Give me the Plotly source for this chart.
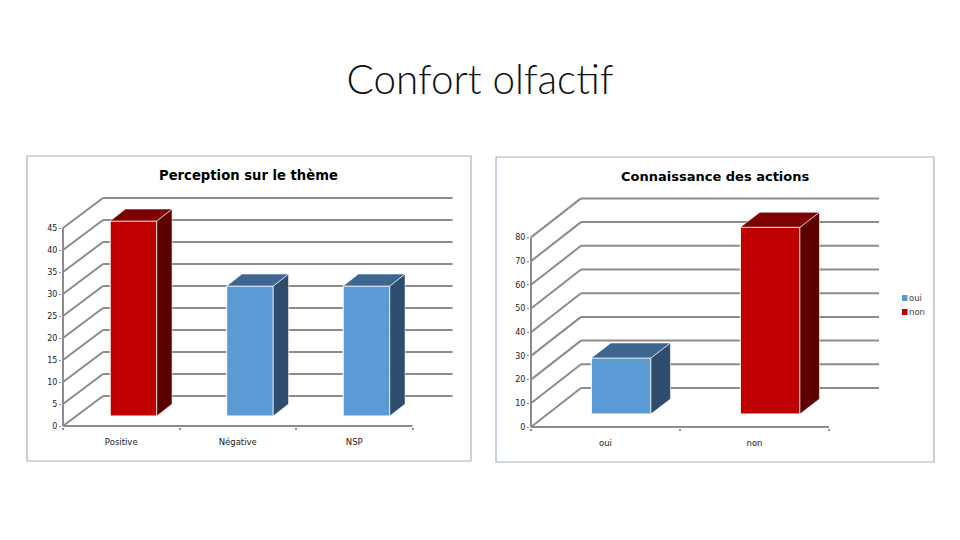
import plotly.graph_objects as go

W, H = 960, 540

# left chart
labels_a = ["Positive", "Négative", "NSP"]
values_a = [45, 30, 30]
colors_a = ["red", "blue", "blue"]
ticks_a = [0, 5, 10, 15, 20, 25, 30, 35, 40, 45]

# right chart
labels_b = ["oui", "non"]
values_b = [24, 80]
colors_b = ["blue", "red"]
ticks_b = [0, 10, 20, 30, 40, 50, 60, 70, 80]

FACES = {
    "red": ("#c00000", "#5c0000", "#7f0000"),
    "blue": ("#5b9bd5", "#2e4d6e", "#3d6690"),
}
GRID = "#8c8c8c"
BORDER = "#a3b5c7"
TEXT = "#222222"
PAD = 1  # px kept around the plot area so the floor and wall lines are not clipped


def px_x(x):
    return x / W


def px_y(y):
    return 1 - y / H


fig = go.Figure()
shapes = []


def add_panel(suffix, labels, values, colors, ticks, left, right, bottom, top,
              cat_w, unit, back_dx, back_dy, bar_base, bar_dx, bar_dy):
    xname = "x" + suffix
    yname = "y" + suffix
    n = len(labels)
    wall_x = back_dx / cat_w
    wall_y = back_dy / unit

    # floor, wall and grid in axis units, behind the bars
    def line(x0, y0, x1, y1):
        shapes.append(dict(type="line", xref=xname, yref=yname, x0=x0, y0=y0, x1=x1, y1=y1,
                           layer="below", line=dict(color=GRID, width=2)))

    line(0, 0, 0, ticks[-1])
    line(0, 0, n, 0)
    for t in ticks:
        line(0, t, wall_x, t + wall_y)
        line(wall_x, t + wall_y, n + wall_x, t + wall_y)

    for i, v in enumerate(values):
        front, side, roof = FACES[colors[i]]
        x0 = i + 0.405
        x1 = i + 0.805
        y0 = bar_base
        y1 = bar_base + v * 0.985
        dx = bar_dx / cat_w
        dy = bar_dy / unit
        fig.add_trace(go.Bar(
            x=[(x0 + x1) / 2], y=[y1 - y0], base=y0, width=x1 - x0, name=labels[i],
            marker=dict(color=front, line=dict(color="white", width=1)),
            xaxis=xname, yaxis=yname, showlegend=False,
        ))
        fig.add_trace(go.Scatter(
            x=[x1, x1 + dx, x1 + dx, x1, x1], y=[y0, y0 + dy, y1 + dy, y1, y0],
            mode="lines", fill="toself", fillcolor=side, line=dict(color="white", width=0.6),
            xaxis=xname, yaxis=yname, showlegend=False, hoverinfo="skip",
        ))
        fig.add_trace(go.Scatter(
            x=[x0, x0 + dx, x1 + dx, x1, x0], y=[y1, y1 + dy, y1 + dy, y1, y1],
            mode="lines", fill="toself", fillcolor=roof, line=dict(color="white", width=0.6),
            xaxis=xname, yaxis=yname, showlegend=False, hoverinfo="skip",
        ))

    layout_x = dict(
        domain=[px_x(left - PAD), px_x(right)], range=[-PAD / cat_w, (right - left) / cat_w],
        anchor=yname, showgrid=False, zeroline=False, automargin=False,
        tickvals=[i + 0.5 for i in range(n)], ticktext=labels,
        ticks="outside", ticklen=7, tickcolor="rgba(0,0,0,0)",
        tickfont=dict(family="DejaVu Sans", size=8.5, color=TEXT),
        minor=dict(tickvals=list(range(n + 1)), ticks="outside", ticklen=2, tickcolor=GRID, tickwidth=1.5),
    )
    layout_y = dict(
        domain=[px_y(bottom + PAD), px_y(top)], range=[-PAD / unit, (bottom - top) / unit],
        anchor=xname, showgrid=False, zeroline=False, automargin=False,
        tickvals=ticks, ticks="outside", ticklen=2, tickcolor=GRID,
        tickfont=dict(family="DejaVu Sans", size=8, color=TEXT),
    )
    return layout_x, layout_y


xa, ya = add_panel("", labels_a, values_a, colors_a, ticks_a, 63, 455, 426, 196,
                   116.5, 4.4, 40, 30, 2.27, 15.3, 12)
xb, yb = add_panel("2", labels_b, values_b, colors_b, ticks_b, 531, 881, 427, 197,
                   149, 2.37, 50, 39, 5.5, 19.5, 15)

# chart frames
for x0, y0, x1, y1 in [(27, 156, 471, 461), (496, 157, 934, 462)]:
    shapes.append(dict(type="rect", xref="paper", yref="paper",
                       x0=px_x(x0), x1=px_x(x1), y0=px_y(y0), y1=px_y(y1),
                       layer="below", line=dict(color=BORDER, width=1.2)))

annotations = [
    dict(text="<b>Perception sur le thème</b>", x=px_x(248), y=px_y(175),
         font=dict(family="DejaVu Sans", size=13.2, color="black")),
    dict(text="<b>Connaissance des actions</b>", x=px_x(714.5), y=px_y(176),
         font=dict(family="DejaVu Sans", size=13, color="black")),
]

# legend of the right chart
for name, color, y in [("oui", "blue", 298), ("non", "red", 312)]:
    shapes.append(dict(type="rect", xref="paper", yref="paper",
                       x0=px_x(902), x1=px_x(907.5), y0=px_y(y - 3), y1=px_y(y + 3),
                       line=dict(width=0), fillcolor=FACES[color][0]))
    annotations.append(dict(text=name, x=px_x(907.5), y=px_y(y), xanchor="left",
                            font=dict(family="DejaVu Sans", size=8.5, color="#444444")))

for a in annotations:
    a.update(xref="paper", yref="paper", showarrow=False, borderpad=0)
    a.setdefault("xanchor", "center")
    a.setdefault("yanchor", "middle")

fig.update_layout(
    width=W, height=H, margin=dict(l=0, r=0, t=0, b=0),
    paper_bgcolor="white", plot_bgcolor="rgba(0,0,0,0)", barmode="overlay",
    showlegend=False,
    title=dict(text="Confort olfactif", x=0.5, xanchor="center", y=px_y(80), yanchor="middle",
               font=dict(family="Lato", size=40.4, weight=300, color="#111111")),
    xaxis=xa, yaxis=ya, xaxis2=xb, yaxis2=yb,
    shapes=shapes, annotations=annotations,
)

fig.write_html("out.html", config={"displayModeBar": False},
               post_script="document.body.style.margin='0';")
